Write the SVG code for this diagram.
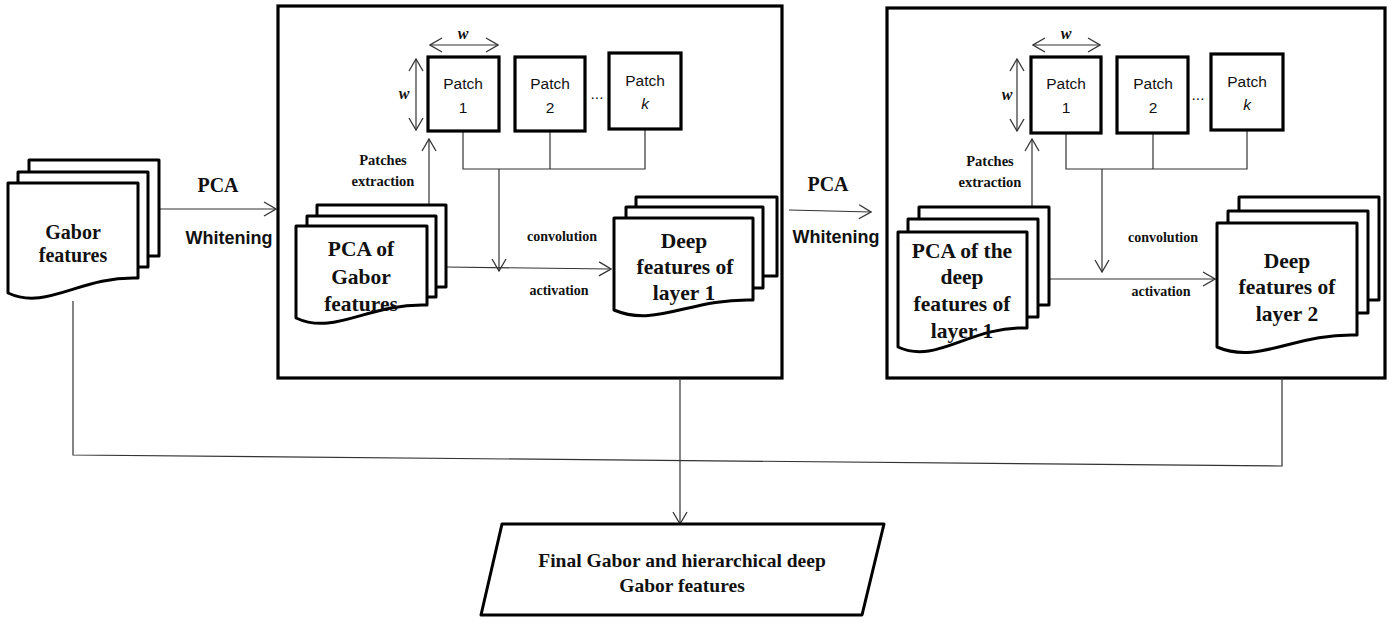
<svg xmlns="http://www.w3.org/2000/svg" width="1398" height="623" viewBox="0 0 1398 623">
  <defs>
    <marker id="open" viewBox="0 0 14 16" refX="13" refY="8" markerWidth="14" markerHeight="16" markerUnits="userSpaceOnUse" orient="auto-start-reverse">
      <path d="M1,1 L13,8 L1,15" fill="none" stroke="#333" stroke-width="1.3"/>
    </marker>
    <style>
      .frame { fill: #fff; stroke: #000; stroke-width: 3.2; }
      .page { fill: #fff; stroke: #000; stroke-width: 3; stroke-linejoin: round; }
      .patch { fill: #fff; stroke: #000; stroke-width: 3.2; }
      .wire { fill: none; stroke: #333; stroke-width: 1.2; }
      .arrow { fill: none; stroke: #333; stroke-width: 1.2; marker-end: url(#open); }
      .dbl { fill: none; stroke: #333; stroke-width: 1.2; marker-start: url(#open); marker-end: url(#open); }
      .doc { font-family: "Liberation Serif", serif; font-weight: bold; fill: #111; text-anchor: middle; }
      .big { font-size: 20px; }
      .mid { font-size: 21.5px; }
      .small { font-family: "Liberation Serif", serif; font-weight: bold; font-size: 14px; fill: #111; text-anchor: middle; }
      .ext { font-family: "Liberation Serif", serif; font-weight: bold; font-size: 14.5px; fill: #111; text-anchor: middle; }
      .sans { font-family: "Liberation Sans", sans-serif; font-size: 15.5px; fill: #111; text-anchor: middle; }
      .whit { font-family: "Liberation Sans", sans-serif; font-weight: bold; font-size: 18px; fill: #111; text-anchor: middle; }
      .w { font-family: "Liberation Serif", serif; font-style: italic; font-weight: bold; font-size: 16px; fill: #111; text-anchor: middle; }
    </style>
  </defs>

  <rect width="1398" height="623" fill="#fff"/>

  <!-- layer frames -->
  <g id="layer1-frame"><rect class="frame" x="278" y="6" width="504" height="372"/></g>
  <g id="layer2-frame"><rect class="frame" x="887" y="8" width="498" height="370"/></g>

  <!-- connectors -->
  <g id="connectors">
    <line class="arrow" x1="159" y1="209" x2="276" y2="209"/>
    <line class="arrow" x1="789" y1="210" x2="871" y2="212"/>
    <line class="arrow" x1="429" y1="205" x2="429" y2="139"/>
    <line class="arrow" x1="1032" y1="207" x2="1032" y2="139"/>
    <path class="wire" d="M463,131 V169 H645 V129 M550,131 V169"/>
    <line class="arrow" x1="499" y1="169" x2="499" y2="271"/>
    <path class="wire" d="M1066,133 V169 H1247 V130 M1153,133 V169"/>
    <line class="arrow" x1="1102" y1="169" x2="1102" y2="272"/>
    <line class="arrow" x1="446" y1="267" x2="611" y2="269"/>
    <line class="arrow" x1="1049" y1="279" x2="1215" y2="279"/>
    <line class="dbl" x1="430" y1="45" x2="498" y2="45"/>
    <line class="dbl" x1="416" y1="59" x2="416" y2="130"/>
    <line class="dbl" x1="1033" y1="45" x2="1100" y2="45"/>
    <line class="dbl" x1="1017" y1="59" x2="1017" y2="131"/>
    <path class="wire" d="M73,301 V455 L1282,466 V378"/>
    <line class="arrow" x1="680" y1="378" x2="680" y2="524"/>
  </g>

  <!-- Gabor features -->
  <g id="gabor-features">
    <rect class="page" x="29" y="160" width="130" height="96"/>
    <rect class="page" x="18" y="172" width="130" height="95"/>
    <path class="page" d="M8,183 H138 V278 C79.5,276 47,311 8,293 Z"/>
    <text class="doc big" x="73" y="239">Gabor</text>
    <text class="doc big" x="73" y="262">features</text>
  </g>

  <g id="pca-label-1">
    <text class="doc big" x="218" y="192">PCA</text>
    <text class="whit" x="229" y="244">Whitening</text>
  </g>

  <!-- layer 1 patches -->
  <g id="l1-patch1">
    <rect class="patch" x="428" y="57" width="71" height="74"/>
    <text class="sans" x="463" y="89">Patch</text>
    <text class="sans" x="463" y="113">1</text>
  </g>
  <g id="l1-patch2">
    <rect class="patch" x="515" y="57" width="70" height="74"/>
    <text class="sans" x="550" y="89">Patch</text>
    <text class="sans" x="550" y="113">2</text>
  </g>
  <text class="sans" x="597" y="99">...</text>
  <g id="l1-patchk">
    <rect class="patch" x="609" y="53" width="72" height="76"/>
    <text class="sans" x="645" y="86">Patch</text>
    <text class="sans" x="645" y="109" font-style="italic">k</text>
  </g>
  <text class="w" x="463" y="39">w</text>
  <text class="w" x="404" y="99">w</text>
  <text class="ext" x="383" y="165">Patches</text>
  <text class="ext" x="383" y="186">extraction</text>

  <!-- PCA of Gabor features -->
  <g id="pca-gabor">
    <rect class="page" x="317" y="205" width="129" height="82"/>
    <rect class="page" x="307" y="216" width="129" height="81"/>
    <path class="page" d="M296,226 H427 V305 C368,303 335,336 296,318 Z"/>
    <text class="doc mid" x="361" y="256">PCA of</text>
    <text class="doc mid" x="361" y="284">Gabor</text>
    <text class="doc mid" x="361" y="311">features</text>
  </g>
  <text class="small" x="562" y="241">convolution</text>
  <text class="small" x="559" y="295">activation</text>

  <!-- Deep features of layer 1 -->
  <g id="deep-layer1">
    <rect class="page" x="636" y="197" width="141" height="79"/>
    <rect class="page" x="626" y="207" width="137" height="81"/>
    <path class="page" d="M614,218 H753 V300 C690,298 656,328 614,310 Z"/>
    <text class="doc mid" x="684" y="248">Deep</text>
    <text class="doc mid" x="685" y="274">features of</text>
    <text class="doc mid" x="684" y="300">layer 1</text>
  </g>

  <g id="pca-label-2">
    <text class="doc big" x="828" y="191">PCA</text>
    <text class="whit" x="836" y="243">Whitening</text>
  </g>

  <!-- layer 2 patches -->
  <g id="l2-patch1">
    <rect class="patch" x="1031" y="57" width="70" height="76"/>
    <text class="sans" x="1066" y="89">Patch</text>
    <text class="sans" x="1066" y="113">1</text>
  </g>
  <g id="l2-patch2">
    <rect class="patch" x="1117" y="57" width="71" height="76"/>
    <text class="sans" x="1153" y="89">Patch</text>
    <text class="sans" x="1153" y="113">2</text>
  </g>
  <text class="sans" x="1198" y="100">...</text>
  <g id="l2-patchk">
    <rect class="patch" x="1211" y="54" width="72" height="76"/>
    <text class="sans" x="1247" y="87">Patch</text>
    <text class="sans" x="1247" y="110" font-style="italic">k</text>
  </g>
  <text class="w" x="1066" y="39">w</text>
  <text class="w" x="1007" y="100">w</text>
  <text class="ext" x="990" y="166">Patches</text>
  <text class="ext" x="990" y="187">extraction</text>

  <!-- PCA of the deep features of layer 1 -->
  <g id="pca-deep1">
    <rect class="page" x="919" y="207" width="130" height="98"/>
    <rect class="page" x="908" y="219" width="130" height="98"/>
    <path class="page" d="M898,232 H1027 V328 C969,326 937,365 898,347 Z"/>
    <text class="doc mid" x="962" y="258">PCA of the</text>
    <text class="doc mid" x="962" y="284">deep</text>
    <text class="doc mid" x="962" y="311">features of</text>
    <text class="doc mid" x="962" y="338">layer 1</text>
  </g>
  <text class="small" x="1163" y="242">convolution</text>
  <text class="small" x="1161" y="296">activation</text>

  <!-- Deep features of layer 2 -->
  <g id="deep-layer2">
    <rect class="page" x="1239" y="197" width="140" height="103"/>
    <rect class="page" x="1228" y="211" width="140" height="102"/>
    <path class="page" d="M1217,223 H1357 V335 C1294,333 1259,365 1217,347 Z"/>
    <text class="doc mid" x="1287" y="268">Deep</text>
    <text class="doc mid" x="1287" y="294">features of</text>
    <text class="doc mid" x="1287" y="321">layer 2</text>
  </g>

  <!-- final output -->
  <g id="final-features">
    <polygon class="page" points="502,524 884,524 862,615 481,615"/>
    <text class="doc" font-size="19.5" x="682" y="567">Final Gabor and hierarchical deep</text>
    <text class="doc" font-size="19.5" x="682" y="592">Gabor features</text>
  </g>
</svg>
